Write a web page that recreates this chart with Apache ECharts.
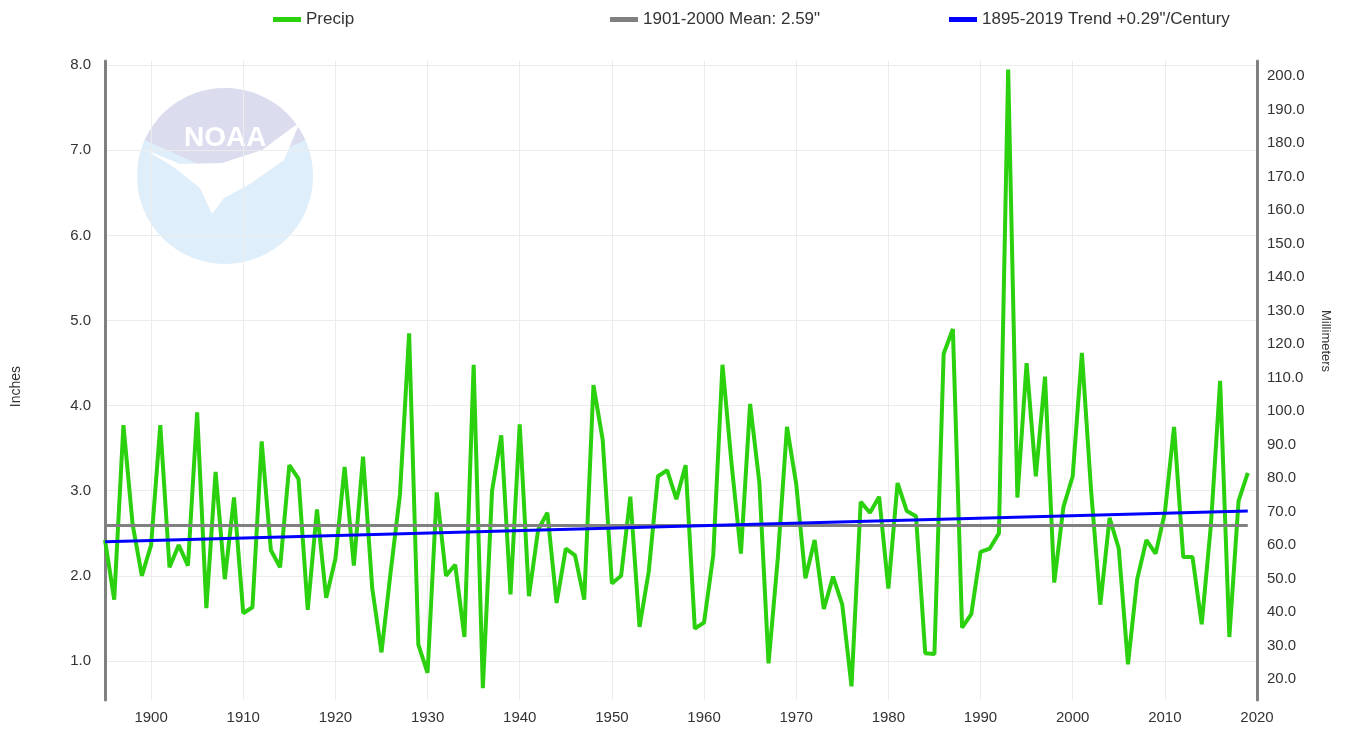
<!DOCTYPE html>
<html>
<head>
<meta charset="UTF-8">
<title>Precip</title>
<script src="https://cdn.jsdelivr.net/npm/echarts@6/dist/echarts.min.js"></script>
<style>
  html, body { margin: 0; padding: 0; background: #fff; }
  #main { width: 1346px; height: 730px; }
</style>
</head>
<body>
<div id="main"></div>
<script type="text/javascript">
// annual precipitation (inches), 1895-2019
var startYear = 1895;
var precip = [
  2.42, 1.72, 3.77, 2.60, 2.00, 2.36, 3.77, 2.10, 2.36, 2.12,
  3.92, 1.62, 3.22, 1.96, 2.92, 1.56, 1.63, 3.58, 2.30, 2.10,
  3.30, 3.14, 1.60, 2.78, 1.74, 2.20, 3.28, 2.12, 3.40, 1.85,
  1.10, 2.05, 2.95, 4.85, 1.19, 0.86, 2.98, 2.00, 2.13, 1.28,
  4.48, 0.68, 3.00, 3.65, 1.78, 3.78, 1.76, 2.54, 2.74, 1.68,
  2.32, 2.24, 1.72, 4.24, 3.60, 1.91, 2.00, 2.93, 1.40, 2.05,
  3.17, 3.24, 2.90, 3.30, 1.38, 1.45, 2.24, 4.48, 3.30, 2.26,
  4.02, 3.10, 0.97, 2.20, 3.75, 3.08, 1.97, 2.42, 1.61, 1.99,
  1.66, 0.70, 2.87, 2.74, 2.93, 1.85, 3.09, 2.76, 2.70, 1.09,
  1.08, 4.61, 4.90, 1.39, 1.55, 2.28, 2.32, 2.50, 7.95, 2.92,
  4.50, 3.17, 4.34, 1.92, 2.81, 3.17, 4.62, 3.00, 1.66, 2.68,
  2.32, 0.96, 1.96, 2.42, 2.26, 2.74, 3.75, 2.22, 2.22, 1.43,
  2.60, 4.29, 1.28, 2.88, 3.21
];
var meanLine = [2.59, 2.59];
var trendLine = [2.40, 2.76];
var lineYears = [1895, 2019];
var xTicks = [1900, 1910, 1920, 1930, 1940, 1950, 1960, 1970, 1980, 1990, 2000, 2010, 2020];
var inchTicks = [1, 2, 3, 4, 5, 6, 7, 8];
var mmTicks = [20, 30, 40, 50, 60, 70, 80, 90, 100, 110, 120, 130, 140, 150, 160, 170, 180, 190, 200];

var inchMin = 0.54, inchMax = 8.05;

var precipData = [];
for (var i = 0; i < precip.length; i++) {
  precipData.push([startYear + i, precip[i]]);
}
var meanData = [], trendData = [];
for (var j = 0; j < lineYears.length; j++) {
  meanData.push([lineYears[j], meanLine[j]]);
  trendData.push([lineYears[j], trendLine[j]]);
}

var font = 'Liberation Sans, Arial, sans-serif';
var myChart = echarts.init(document.getElementById('main'));

var legendBase = {
  top: 6,
  icon: 'rect',
  itemWidth: 28,
  itemHeight: 5,
  itemGap: 8,
  textStyle: { fontFamily: font, fontSize: 17, color: '#333' }
};

var option = {
  animation: false,
  backgroundColor: '#fff',
  legend: [
    Object.assign({}, legendBase, { left: 268, data: ['Precip'] }),
    Object.assign({}, legendBase, { left: 605, data: ['1901-2000 Mean: 2.59"'] }),
    Object.assign({}, legendBase, { left: 944, data: ['1895-2019 Trend +0.29"/Century'] })
  ],
  grid: { left: 105, right: 89, top: 61, bottom: 30 },
  graphic: [
    // faint NOAA watermark
    { type: 'circle', z: -10, shape: { cx: 225, cy: 176, r: 88 }, style: { fill: '#deeefa' } },
    { type: 'sector', z: -10, shape: { cx: 225, cy: 176, r: 88, r0: 0, startAngle: Math.PI + 0.42, endAngle: 2 * Math.PI - 0.42 }, style: { fill: '#dcdcef' } },
    { type: 'polygon', z: -9, shape: { points: [[146, 150], [180, 164], [222, 163], [262, 150], [300, 122], [284, 160], [250, 184], [224, 198], [212, 214], [200, 188], [175, 168]] }, style: { fill: '#ffffff' } },
    { type: 'text', z: -8, left: 184, top: 124, style: { text: 'NOAA', fill: '#ffffff', font: 'bold 28px ' + font } },
    { type: 'text', left: 9, top: 366, rotation: Math.PI / 2, style: { text: 'Inches', fill: '#333', font: '14px ' + font } },
    { type: 'text', left: 1319, top: 310, rotation: -Math.PI / 2, style: { text: 'Millimeters', fill: '#333', font: '13px ' + font } }
  ],
  xAxis: {
    type: 'value',
    min: 1895,
    max: 2020,
    axisLine: { show: false },
    axisTick: { show: false, customValues: xTicks },
    axisLabel: {
      customValues: xTicks, fontFamily: font, fontSize: 15, color: '#333', margin: 10,
      formatter: function (v) { return String(v); }
    },
    splitLine: { show: true, lineStyle: { color: '#ececec', width: 1 } }
  },
  yAxis: [{
    type: 'value',
    min: inchMin,
    max: inchMax,
    position: 'left',
    axisLine: { show: true, lineStyle: { color: '#808080', width: 3 } },
    axisTick: { show: false, customValues: inchTicks },
    axisLabel: {
      customValues: inchTicks, fontFamily: font, fontSize: 15, color: '#333', margin: 14,
      formatter: function (v) { return v.toFixed(1); }
    },
    splitLine: { show: true, lineStyle: { color: '#ececec', width: 1 } }
  }, {
    type: 'value',
    min: inchMin * 25.4,
    max: inchMax * 25.4,
    position: 'right',
    axisLine: { show: true, lineStyle: { color: '#808080', width: 3 } },
    axisTick: { show: false, customValues: mmTicks },
    axisLabel: {
      customValues: mmTicks, fontFamily: font, fontSize: 15, color: '#333', margin: 10,
      formatter: function (v) { return v.toFixed(1); }
    },
    splitLine: { show: false }
  }],
  series: [{
    name: 'Precip',
    type: 'line',
    data: precipData,
    showSymbol: false,
    color: '#2bd00e',
    lineStyle: { width: 4, color: '#2bd00e' },
    z: 2
  }, {
    name: '1901-2000 Mean: 2.59"',
    type: 'line',
    data: meanData,
    showSymbol: false,
    color: '#808080',
    lineStyle: { width: 3, color: '#808080' },
    z: 3
  }, {
    name: '1895-2019 Trend +0.29"/Century',
    type: 'line',
    data: trendData,
    showSymbol: false,
    color: '#0000ff',
    lineStyle: { width: 3, color: '#0000ff' },
    z: 4
  }]
};
myChart.setOption(option);
</script>
</body>
</html>
